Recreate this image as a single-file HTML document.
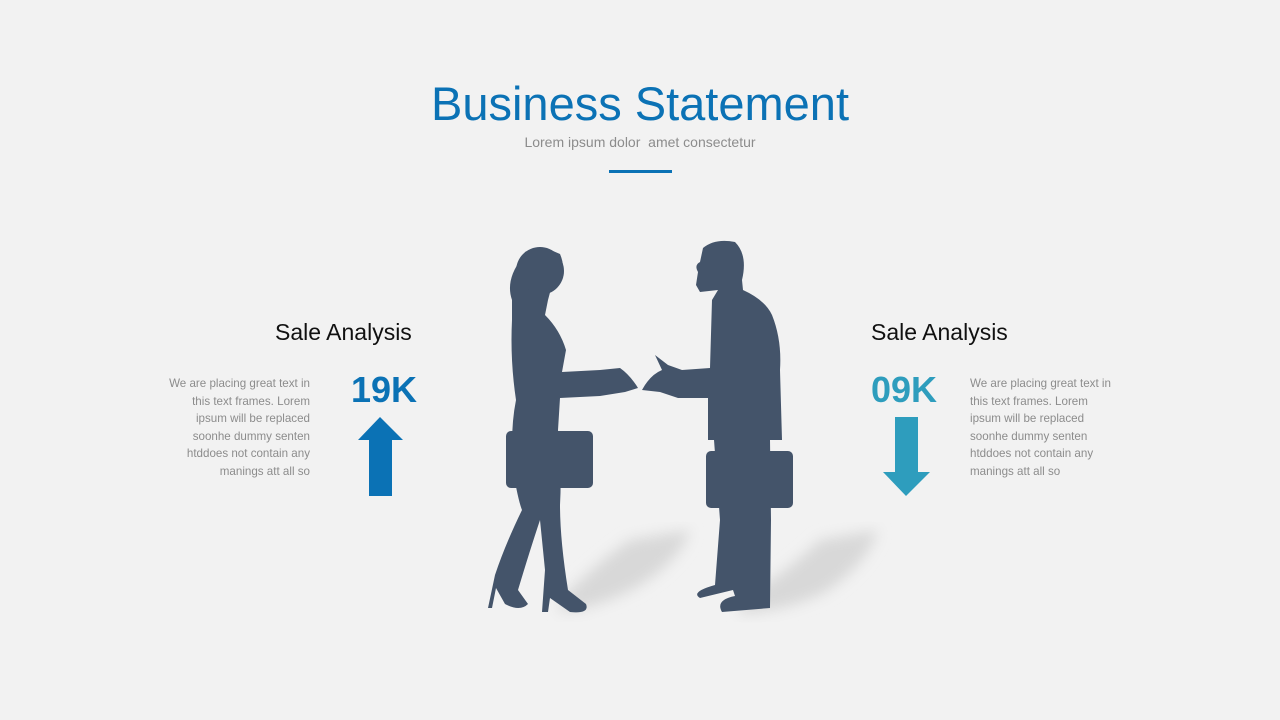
<!DOCTYPE html>
<html><head><meta charset="utf-8"><style>
html,body{margin:0;padding:0}
body{width:1280px;height:720px;background:#f2f2f2;position:relative;overflow:hidden;font-family:"Liberation Sans",sans-serif}
.t{position:absolute;white-space:nowrap}
.body{position:absolute;font-size:11.6px;line-height:17.6px;color:#8c8c8c;white-space:nowrap}
</style></head><body>
<div class="t" style="left:0;width:1280px;text-align:center;top:76px;font-size:47px;color:#0b72b5">Business Statement</div>
<div class="t" style="left:0;width:1280px;text-align:center;top:134px;font-size:14px;color:#8c8c8c">Lorem ipsum dolor &nbsp;amet consectetur</div>
<div style="position:absolute;left:609px;top:170px;width:63px;height:3px;background:#0b72b5"></div>

<div class="t" style="left:275px;top:319px;font-size:23px;color:#111">Sale Analysis</div>
<div class="t" style="left:871px;top:319px;font-size:23px;color:#111">Sale Analysis</div>
<div class="t" style="left:351px;top:369px;font-size:36px;font-weight:bold;color:#0b72b5">19K</div>
<div class="t" style="left:871px;top:369px;font-size:36px;font-weight:bold;color:#2e9dbd">09K</div>
<div class="body" style="right:970px;top:375px;text-align:right">We are placing great text in<br>this text frames. Lorem<br>ipsum will be replaced<br>soonhe dummy senten<br>htddoes not contain any<br>manings att all so</div>
<div class="body" style="left:970px;top:375px;text-align:left">We are placing great text in<br>this text frames. Lorem<br>ipsum will be replaced<br>soonhe dummy senten<br>htddoes not contain any<br>manings att all so</div>

<svg width="1280" height="720" style="position:absolute;left:0;top:0">
<defs><filter id="b"><feGaussianBlur stdDeviation="7"/></filter></defs>
<polygon points="358,440 380,417 403,440 392,440 392,496 369,496 369,440" fill="#0b72b5"/>
<polygon points="895,417 918,417 918,472 930,472 906,496 883,472 895,472" fill="#2e9dbd"/>
<g fill="#d8d8d8" filter="url(#b)">
<path d="M560,600 Q600,560 630,540 L690,530 Q680,560 640,585 Q600,608 560,612Z"/>
<path d="M740,600 Q790,570 820,540 L878,530 Q866,565 825,592 Q790,610 740,614Z"/>
</g>
<g fill="#44546a">
<ellipse cx="540" cy="271" rx="24" ry="24"/>
<path d="M522,258 Q505,280 512,300 L512,320 Q510,360 516,400 Q510,430 513,470 Q518,500 522,510 Q505,545 495,575 L488,608 L492,608 L496,588 L505,604 Q520,612 528,604 L518,590 Q530,550 540,520 L545,570 L542,612 L548,612 L550,598 L570,612 Q590,614 586,604 L568,590 Q560,540 560,505 Q562,470 558,430 L560,398 L600,396 L625,392 L638,388 Q630,375 620,368 L600,370 L562,372 L566,350 Q560,330 545,315 L548,300 L552,285 Z"/>
<path d="M525,252 Q540,244 560,254 Q566,268 560,280 L530,290 Q515,285 518,268Z"/>
<rect x="506" y="431" width="87" height="57" rx="5"/>
<path d="M703,248 Q715,238 735,242 Q748,255 742,280 L743,290 Q765,300 772,315 Q782,340 780,370 L782,440 L770,440 L771,520 L770,608 L722,612 Q715,600 735,596 L733,590 L700,598 Q690,592 715,585 L720,520 L714,440 L708,440 L708,398 L678,398 L660,392 L642,390 Q650,375 662,370 L655,355 L668,365 L682,370 L710,368 L712,300 L718,290 L700,292 L696,285 L698,272 Q694,265 700,262 Z"/>
<rect x="706" y="451" width="87" height="57" rx="5"/>
</g>
</svg>
</body></html>
